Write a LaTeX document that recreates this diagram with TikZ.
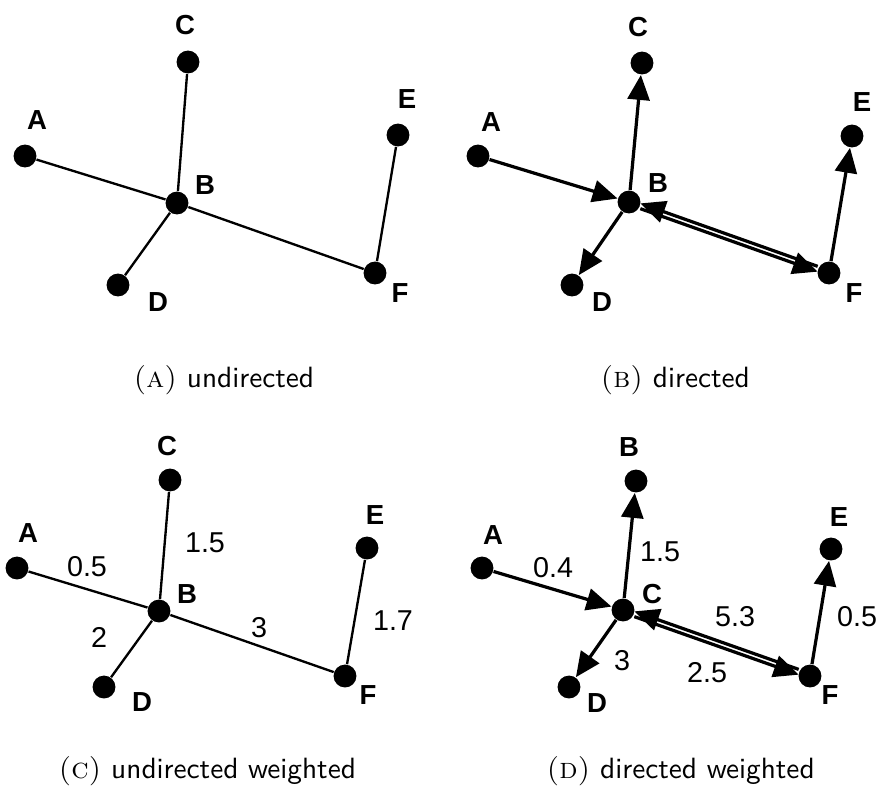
\documentclass[tikz,border=0pt]{standalone}
\usepackage{fontspec}
\usetikzlibrary{arrows.meta}
\newfontfamily\arialfont{Liberation Sans}
\tikzset{
  sommet/.style={circle,fill,inner sep=0pt,minimum size=7.8pt},
  etiq/.style={inner sep=0pt,font=\arialfont\bfseries\fontsize{9.4}{11}\selectfont},
  poids/.style={inner sep=0pt,font=\arialfont\fontsize{9.8}{11}\selectfont},
  arete/.style={line width=0.8pt},
  arc/.style={line width=1.1pt,-{Triangle[length=8.5pt,width=7.5pt]}},
  legende/.style={anchor=base west,inner sep=0pt,font=\normalsize}
}
\begin{document}
\begin{tikzpicture}[x=0.012cm,y=-0.012cm]
\useasboundingbox (0,0) rectangle (884,796);
%Sommets (a)
\node[sommet] (A1) at (25,156) {};
\node[sommet] (B1) at (177,203) {};
\node[sommet] (C1) at (188,62) {};
\node[sommet] (D1) at (118,285) {};
\node[sommet] (E1) at (398,135) {};
\node[sommet] (F1) at (375,273) {};
\node[etiq] (lA1) at (37,120) {A};
\node[etiq] (lB1) at (205,185) {B};
\node[etiq] (lC1) at (185,25) {C};
\node[etiq] (lD1) at (158,302) {D};
\node[etiq] (lE1) at (407,99) {E};
\node[etiq] (lF1) at (400,293) {F};
%Arêtes (a)
\draw[arete] (A1)--(B1);
\draw[arete] (C1)--(B1);
\draw[arete] (D1)--(B1);
\draw[arete] (B1)--(F1);
\draw[arete] (E1)--(F1);
%Sommets (b)
\node[sommet] (A2) at (478,156) {};
\node[sommet] (B2) at (629,202) {};
\node[sommet] (C2) at (642,63) {};
\node[sommet] (D2) at (572,285) {};
\node[sommet] (E2) at (852,136) {};
\node[sommet] (F2) at (829,273) {};
\node[etiq] (lA2) at (491,122) {A};
\node[etiq] (lB2) at (658,183) {B};
\node[etiq] (lC2) at (638,27) {C};
\node[etiq] (lD2) at (602,302) {D};
\node[etiq] (lE2) at (862,102) {E};
\node[etiq] (lF2) at (854,293) {F};
%Arcs (b)
\draw[arc] (A2)--(B2);
\draw[arc] (B2)--(C2);
\draw[arc] (B2)--(D2);
\draw[arc,transform canvas={yshift=0.9pt}] (F2)--(B2);
\draw[arc,transform canvas={yshift=-0.9pt}] (B2)--(F2);
\draw[arc] (F2)--(E2);
%Sommets (c)
\node[sommet] (A3) at (17,568) {};
\node[sommet] (B3) at (159,611) {};
\node[sommet] (C3) at (170,480) {};
\node[sommet] (D3) at (104,687) {};
\node[sommet] (E3) at (367,548) {};
\node[sommet] (F3) at (345,676) {};
\node[etiq] (lA3) at (28,533) {A};
\node[etiq] (lB3) at (187,594) {B};
\node[etiq] (lC3) at (167,446) {C};
\node[etiq] (lD3) at (142,702) {D};
\node[etiq] (lE3) at (375,515) {E};
\node[etiq] (lF3) at (368,695) {F};
%Arêtes pondérées (c)
\draw[arete] (A3)--(B3);
\draw[arete] (C3)--(B3);
\draw[arete] (D3)--(B3);
\draw[arete] (B3)--(F3);
\draw[arete] (E3)--(F3);
\node[poids] (pAB3) at (87,567) {0.5};
\node[poids] (pCB3) at (205,543) {1.5};
\node[poids] (pDB3) at (99,637) {2};
\node[poids] (pBF3) at (259,628) {3};
\node[poids] (pEF3) at (393,621) {1.7};
%Sommets (d)
\node[sommet] (A4) at (482,568) {};
\node[sommet] (C4) at (623,610) {};
\node[sommet] (B4) at (636,481) {};
\node[sommet] (D4) at (569,687) {};
\node[sommet] (E4) at (831,549) {};
\node[sommet] (F4) at (810,676) {};
\node[etiq] (lA4) at (493,535) {A};
\node[etiq] (lB4) at (629,447) {B};
\node[etiq] (lC4) at (652,594) {C};
\node[etiq] (lD4) at (597,703) {D};
\node[etiq] (lE4) at (839,517) {E};
\node[etiq] (lF4) at (830,695) {F};
%Arcs pondérés (d)
\draw[arc] (A4)--(C4);
\draw[arc] (C4)--(B4);
\draw[arc] (C4)--(D4);
\draw[arc,transform canvas={yshift=0.9pt}] (F4)--(C4);
\draw[arc,transform canvas={yshift=-0.9pt}] (C4)--(F4);
\draw[arc] (F4)--(E4);
\node[poids] (pAC4) at (553,568) {0.4};
\node[poids] (pCB4) at (660,552) {1.5};
\node[poids] (pCD4) at (622,661) {3};
\node[poids] (pFC4) at (735,617) {5.3};
\node[poids] (pCF4) at (707,673) {2.5};
\node[poids] (pFE4) at (857,617) {0.5};
%Légendes
\node[legende] (capA) at (133,387) {\textsc{(a)}\ \textsf{undirected}};
\node[legende] (capB) at (600,387) {\textsc{(b)}\ \textsf{directed}};
\node[legende] (capC) at (58,778) {\textsc{(c)}\ \textsf{undirected weighted}};
\node[legende] (capD) at (546,778) {\textsc{(d)}\ \textsf{directed weighted}};
\end{tikzpicture}
\end{document}
